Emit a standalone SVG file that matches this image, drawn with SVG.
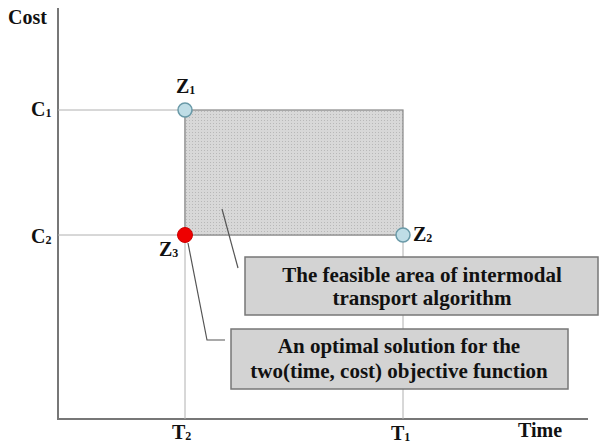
<svg xmlns="http://www.w3.org/2000/svg" width="601" height="445" viewBox="0 0 601 445">
<defs>
<pattern id="dots" width="3" height="3" patternUnits="userSpaceOnUse">
<rect width="3" height="3" fill="#d8d8d8"/>
<rect width="1" height="1" fill="#b8b8b8"/>
</pattern>
</defs>
<style>
text{font-family:"Liberation Serif","Times New Roman",serif;font-weight:bold;fill:#111}
.lab{font-size:20px}
.sub{font-size:12px}
.box{fill:#d3d3d3;stroke:#777;stroke-width:1.5}
.guide{stroke:#b0b0b0;stroke-width:1;fill:none}
.axis{stroke:#777;stroke-width:2;fill:none}
.lead{stroke:#555;stroke-width:1.2;fill:none}
.bt{font-size:21px;text-anchor:middle}
</style>
<rect width="601" height="445" fill="#fff"/>
<g id="axes">
<path class="axis" d="M58,8 V419 H588"/>
<text class="lab" x="8" y="24">Cost</text>
<text class="lab" x="518" y="437">Time</text>
</g>
<g id="guides">
<path class="guide" d="M58,110 H185 M58,235 H403 M185,110 V419 M403,235 V419"/>
</g>
<g id="feasible-area">
<rect x="185" y="110" width="218" height="125" fill="url(#dots)" stroke="#888" stroke-width="1.2"/>
</g>
<g id="connectors">
<path class="lead" d="M222,209 L238,268"/>
<path class="lead" d="M188,243 L207,340 H225"/>
</g>
<g id="labels">
<text class="lab" x="31" y="116">C<tspan class="sub" dy="1">1</tspan></text>
<text class="lab" x="31" y="243">C<tspan class="sub" dy="1">2</tspan></text>
<text class="lab" x="176" y="93">Z<tspan class="sub" dy="1">1</tspan></text>
<text class="lab" x="159" y="256">Z<tspan class="sub" dy="1">3</tspan></text>
<text class="lab" x="413" y="241">Z<tspan class="sub" dy="1">2</tspan></text>
<text class="lab" x="172" y="439">T<tspan class="sub" dy="1">2</tspan></text>
<text class="lab" x="391" y="440">T<tspan class="sub" dy="1">1</tspan></text>
</g>
<g id="z1"><circle cx="185" cy="110" r="7" fill="#bfdde6" stroke="#6a9aa8" stroke-width="1.5"/></g>
<g id="z2"><circle cx="403" cy="235" r="7" fill="#bfdde6" stroke="#6a9aa8" stroke-width="1.5"/></g>
<g id="z3"><circle cx="185" cy="235" r="7.5" fill="#ee0000" stroke="#c00" stroke-width="1"/></g>
<g id="box-feasible">
<rect class="box" x="245" y="257" width="353" height="58"/>
<text class="bt" x="422" y="282">The feasible area of intermodal</text>
<text class="bt" x="422" y="305">transport algorithm</text>
</g>
<g id="box-optimal">
<rect class="box" x="231" y="329" width="337" height="60"/>
<text class="bt" x="399" y="353">An optimal solution for the</text>
<text class="bt" x="399" y="378">two(time, cost) objective function</text>
</g>
</svg>
